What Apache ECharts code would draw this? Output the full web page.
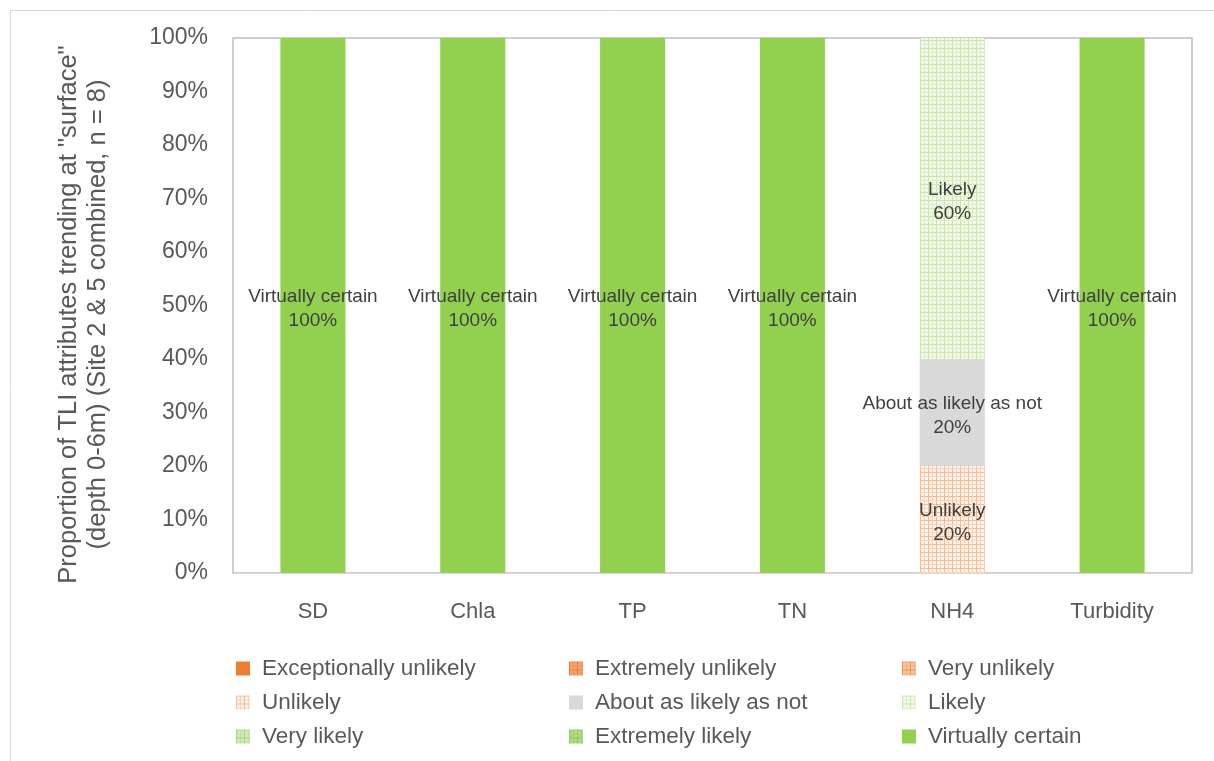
<!DOCTYPE html>
<html>
<head>
<meta charset="utf-8">
<script src="https://cdn.jsdelivr.net/npm/echarts@6/dist/echarts.min.js"></script>
<style>
html,body{margin:0;padding:0;background:#fff;}
#chart{width:1214px;height:761px;}
</style>
</head>
<body>
<div id="chart"></div>
<script>
// ---- data ----
var categories = ['SD', 'Chla', 'TP', 'TN', 'NH4', 'Turbidity'];
var seriesNames = ['Exceptionally unlikely', 'Extremely unlikely', 'Very unlikely', 'Unlikely',
  'About as likely as not', 'Likely', 'Very likely', 'Extremely likely', 'Virtually certain'];
var exceptionallyUnlikely = [0, 0, 0, 0, 0, 0];
var extremelyUnlikely     = [0, 0, 0, 0, 0, 0];
var veryUnlikely          = [0, 0, 0, 0, 0, 0];
var unlikely              = [0, 0, 0, 0, 20, 0];
var aboutAsLikelyAsNot    = [0, 0, 0, 0, 20, 0];
var likely                = [0, 0, 0, 0, 60, 0];
var veryLikely            = [0, 0, 0, 0, 0, 0];
var extremelyLikely       = [0, 0, 0, 0, 0, 0];
var virtuallyCertain      = [100, 100, 100, 100, 0, 100];
var yTicks = [0, 10, 20, 30, 40, 50, 60, 70, 80, 90, 100];

var seriesData = [exceptionallyUnlikely, extremelyUnlikely, veryUnlikely, unlikely,
  aboutAsLikelyAsNot, likely, veryLikely, extremelyLikely, virtuallyCertain];

// ---- patterns ----
function makePattern(bg, c1, c2) {
  var cv = document.createElement('canvas');
  cv.width = 8; cv.height = 8;
  var ctx = cv.getContext('2d');
  ctx.fillStyle = bg; ctx.fillRect(0, 0, 8, 8);
  ctx.fillStyle = c1;
  ctx.fillRect(0, 0, 8, 1); ctx.fillRect(0, 0, 1, 8);
  ctx.fillStyle = c2;
  ctx.fillRect(0, 4, 8, 1); ctx.fillRect(4, 0, 1, 8);
  return { image: cv, repeat: 'repeat' };
}

var colors = [
  '#ED7D31',
  makePattern('#F4A877', '#E9782F', '#EF9155'),
  makePattern('#F8C8A7', '#EE8E4F', '#F3AC7D'),
  makePattern('#FEF3EB', '#F6B88F', '#F9D2B7'),
  '#D9D9D9',
  makePattern('#F3FAEC', '#C6E6A4', '#DCF0C7'),
  makePattern('#D2EBB7', '#A5D878', '#BCE29A'),
  makePattern('#B4DC8A', '#8CCB4E', '#A0D46A'),
  '#92D050'
];

var series = seriesNames.map(function (name, i) {
  return {
    name: name,
    type: 'bar',
    stack: 'total',
    barWidth: '40.7%',
    data: seriesData[i],
    itemStyle: { color: colors[i] },
    label: {
      show: true,
      position: 'inside',
      offset: [0, 3],
      color: '#404040',
      fontSize: 19,
      lineHeight: 24,
      fontFamily: 'Liberation Sans',
      formatter: function (p) {
        return p.value ? p.seriesName + '\n' + p.value + '%' : '';
      }
    }
  };
});

function legendCol(left, names) {
  return {
    orient: 'vertical',
    left: left,
    top: 652,
    itemWidth: 14,
    itemHeight: 14,
    itemGap: 11,
    icon: 'rect',
    data: names,
    textStyle: {
      color: '#595959',
      fontSize: 22.5,
      lineHeight: 22,
      fontFamily: 'Liberation Sans',
      padding: [0, 0, 0, 7]
    }
  };
}

var chart = echarts.init(document.getElementById('chart'), null, { renderer: 'canvas' });
chart.setOption({
  animation: false,
  backgroundColor: '#fff',
  textStyle: { fontFamily: 'Liberation Sans' },
  graphic: [{
    type: 'rect',
    z: -10,
    shape: { x: 10.5, y: 10.5, width: 1230, height: 800 },
    style: { fill: 'none', stroke: '#D9D9D9', lineWidth: 1 }
  }],
  grid: {
    left: 233, right: 22, top: 38, bottom: 188,
    show: true, borderColor: '#BFBFBF', borderWidth: 1.5, backgroundColor: 'transparent'
  },
  legend: [
    legendCol(231, [seriesNames[0], seriesNames[3], seriesNames[6]]),
    legendCol(564, [seriesNames[1], seriesNames[4], seriesNames[7]]),
    legendCol(897, [seriesNames[2], seriesNames[5], seriesNames[8]])
  ],
  xAxis: {
    type: 'category',
    data: categories,
    axisLine: { show: true, lineStyle: { color: '#D9D9D9' } },
    axisTick: { show: false },
    axisLabel: { color: '#595959', fontSize: 22, margin: 28, fontFamily: 'Liberation Sans' }
  },
  yAxis: {
    type: 'value',
    min: 0, max: 100, interval: 10,
    name: 'Proportion of TLI attributes trending at "surface"\n(depth 0-6m) (Site 2 & 5 combined, n = 8)',
    nameLocation: 'middle',
    nameGap: 121,
    nameTextStyle: {
      color: '#595959', fontSize: 25.5, lineHeight: 29, fontFamily: 'Liberation Sans',
      padding: [0, 18, 0, 0]
    },
    splitLine: { show: false },
    axisLine: { show: false },
    axisTick: { show: false },
    axisLabel: {
      color: '#595959', fontSize: 23, margin: 25, fontFamily: 'Liberation Sans',
      padding: [8, 0, 0, 0],
      formatter: function (v) { return yTicks.indexOf(v) >= 0 ? v + '%' : ''; }
    }
  },
  series: series
});
</script>
</body>
</html>
